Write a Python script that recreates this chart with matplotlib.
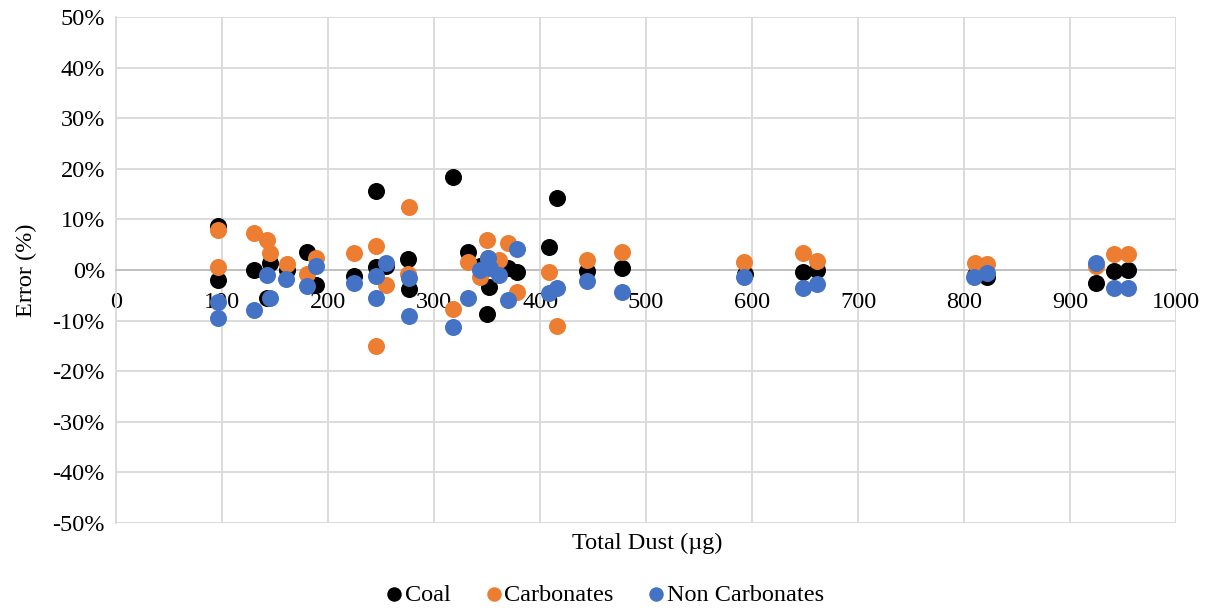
import matplotlib.pyplot as plt
from matplotlib.ticker import FuncFormatter

plt.rcParams['font.family'] = ['Liberation Serif', 'DejaVu Serif']

# Values (total dust in ug, error in %)
coal_x = [96.5, 96.5, 130.5, 142, 145, 161, 180, 189, 224.5, 245, 245, 255, 275, 276,
          318, 332, 343, 350, 352, 370, 378, 408, 416, 444, 477, 593, 648, 661,
          810, 822, 924, 941, 955]
coal_y = [8.6, -2.0, 0.0, -5.5, 1.4, 0.0, 3.6, -3.0, -1.2, 15.7, 0.5, 0.7, 2.1, -3.8,
          18.4, 3.6, 0.8, -8.6, -3.3, 0.3, -0.4, 4.6, 14.3, -0.1, 0.3, -0.7, -0.3, 0.1,
          -1.0, -1.3, -2.6, -0.1, 0.1]

carb_x = [96.5, 96.5, 130.5, 142, 145, 161, 180, 189, 224.5, 245, 255, 245, 276, 275,
          318, 332, 350, 370, 361, 351, 343, 378, 408, 416, 444, 477, 592, 648, 661,
          810, 822, 924, 941, 955]
carb_y = [7.9, 0.5, 7.4, 5.9, 3.4, 1.1, -0.8, 2.3, 3.3, 4.7, -3.0, -15.0, 12.5, -0.7,
          -7.8, 1.6, 5.9, 5.4, 2.0, 2.4, -1.3, -4.3, -0.3, -11.0, 2.0, 3.5, 1.6, 3.3, 1.8,
          1.4, 1.2, 0.7, 3.1, 3.1]

noncarb_x = [96.5, 96.5, 130.5, 142, 145, 160, 180, 189, 224.5, 245, 245, 255, 276, 276,
             318, 332, 343, 351, 353, 361, 370, 378, 408, 416, 444, 477, 592, 648, 661,
             809, 822, 924, 941, 955]
noncarb_y = [-6.4, -9.4, -7.9, -1.0, -5.5, -1.8, -3.2, 0.7, -2.5, -1.2, -5.5, 1.3, -1.6, -9.0,
             -11.2, -5.6, 0.0, 2.3, 0.3, -1.0, -5.9, 4.1, -4.6, -3.6, -2.2, -4.3, -1.3, -3.6, -2.8,
             -1.3, -0.5, 1.4, -3.6, -3.6]

x_ticks = list(range(0, 1001, 100))
y_ticks = list(range(-50, 51, 10))

fig = plt.figure(figsize=(12.2, 6.12), dpi=100)
ax = fig.add_axes([0.0951, 0.1454, 0.869, 0.8268])

msize = 150
ax.scatter(coal_x, coal_y, s=msize, color='black', label='Coal', zorder=3, linewidths=0)
ax.scatter(carb_x, carb_y, s=msize, color='#ED7D31', label='Carbonates', zorder=4, linewidths=0)
ax.scatter(noncarb_x, noncarb_y, s=msize, color='#4472C4', label='Non Carbonates', zorder=5, linewidths=0)

ax.set_xlim(0, 1000)
ax.set_ylim(-50, 50)
ax.set_xticks(x_ticks)
ax.set_yticks(y_ticks)
ax.yaxis.set_major_formatter(FuncFormatter(lambda v, p: f'{int(v)}%'))
ax.grid(True, color='#D9D9D9', linewidth=1.3, zorder=0)
ax.set_axisbelow(True)

for s in ['top', 'right']:
    ax.spines[s].set_visible(False)
ax.spines['bottom'].set_position(('data', 0))
ax.spines['bottom'].set_color('#BFBFBF')
ax.spines['bottom'].set_linewidth(1.3)
ax.spines['left'].set_color('#D9D9D9')
ax.spines['left'].set_linewidth(1.3)

ax.tick_params(axis='x', length=0, pad=16, labelsize=17.5)
ax.tick_params(axis='y', length=0, pad=8, labelsize=17.5)

ax.set_ylabel('Error (%)', fontsize=17.5, labelpad=11)
fig.text(0.5305, 0.112, 'Total Dust (\u00b5g)', fontsize=17.5, ha='center', va='center')

fig.legend(loc='center', bbox_to_anchor=(0.4965, 0.028), ncol=3, frameon=False,
           fontsize=17.5, markerscale=0.85, handlelength=0.6, handletextpad=0.15,
           columnspacing=1.45)

fig.savefig('out.png', dpi=100)
